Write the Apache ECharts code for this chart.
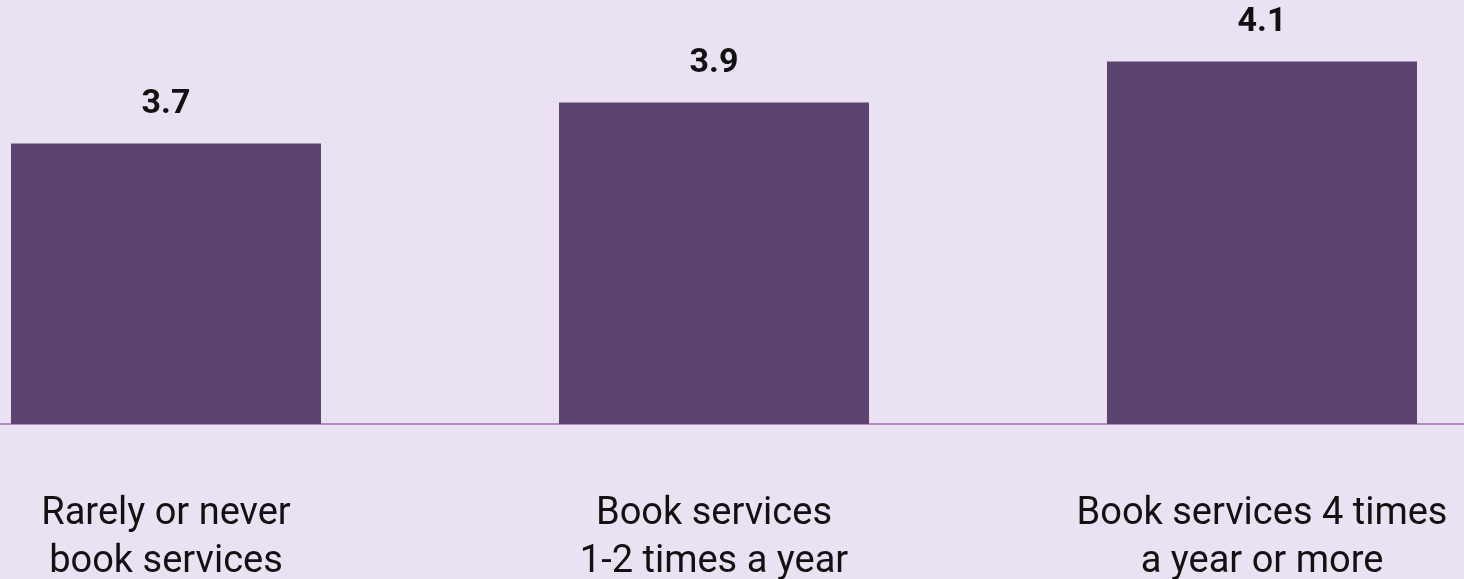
<!DOCTYPE html>
<html>
<head>
<meta charset="utf-8">
<style>
  html, body { margin: 0; padding: 0; background: #EAE2F2; }
  #chart { width: 1464px; height: 579px; }
</style>
<script src="https://cdn.jsdelivr.net/npm/echarts@6/dist/echarts.min.js"></script>
</head>
<body>
<div id="chart"></div>
<script>
// Average rating by how often customers book services
const categories = [
  'Rarely or never\nbook services',
  'Book services\n1-2 times a year',
  'Book services 4 times\na year or more'
];
const ratings = [3.7, 3.9, 4.1];

const chart = echarts.init(document.getElementById('chart'), null, { renderer: 'canvas' });

chart.setOption({
  backgroundColor: '#EAE2F2',
  animation: false,
  grid: {
    left: -108, right: -72, top: 0, bottom: 155,
    containLabel: false,
    outerBoundsMode: 'none'
  },
  xAxis: {
    type: 'category',
    data: categories,
    axisLine: { show: true, lineStyle: { color: '#B58CC2', width: 2 } },
    axisTick: { show: false },
    axisLabel: {
      color: '#111111',
      fontFamily: 'Roboto',
      fontSize: 38,
      lineHeight: 48,
      margin: 66,
      interval: 0
    }
  },
  yAxis: {
    type: 'value',
    min: 2.33,
    max: 4.4,
    show: false,
    splitLine: { show: false }
  },
  series: [{
    type: 'bar',
    data: ratings,
    barWidth: 310,
    itemStyle: { color: '#5B456F' },
    label: {
      show: true,
      position: 'top',
      distance: 22,
      color: '#111111',
      fontFamily: 'Roboto',
      fontWeight: 'bold',
      fontSize: 34,
      formatter: p => p.value.toFixed(1)
    }
  }]
});
</script>
</body>
</html>
